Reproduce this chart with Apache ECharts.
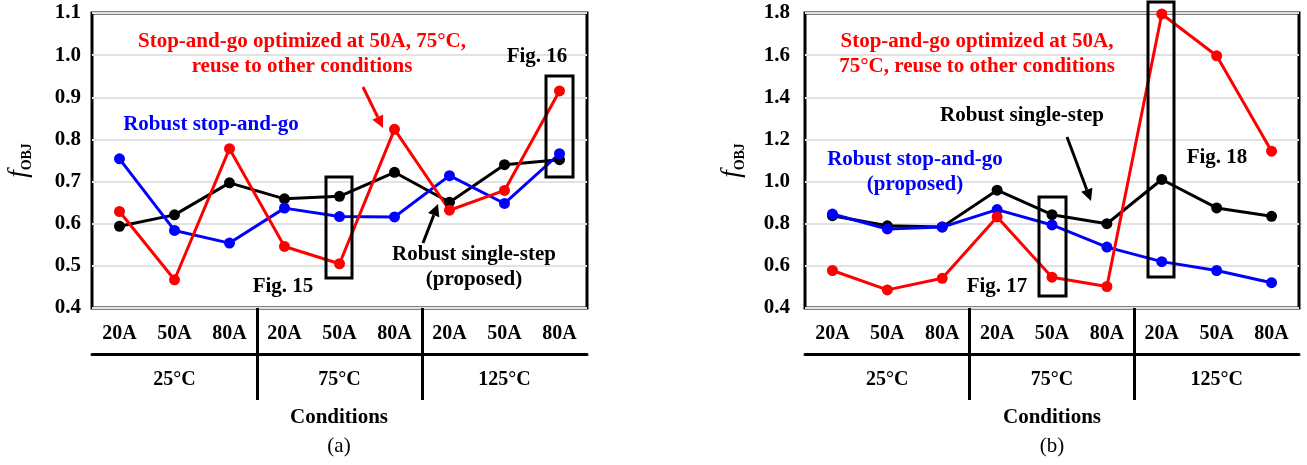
<!DOCTYPE html>
<html>
<head>
    <meta charset="UTF-8">
    <title>fOBJ conditions</title>
    <script src="https://cdn.jsdelivr.net/npm/echarts@6/dist/echarts.min.js"></script>
    <style>
        body { margin: 0; background: #fff; }
    </style>
</head>
<body>
<div id="chart" style="width: 1307px;height:465px;"></div>
<script>
    // 数据
    const currents = ['20A', '50A', '80A', '20A', '50A', '80A', '20A', '50A', '80A'];
    const temps = ['25°C', '75°C', '125°C'];

    // (a)
    const aSingleStep = [0.594, 0.621, 0.697, 0.659, 0.665, 0.722, 0.651, 0.740, 0.752];
    const aRobustStopGo = [0.754, 0.584, 0.554, 0.637, 0.617, 0.616, 0.714, 0.648, 0.766];
    const aStopGo = [0.629, 0.467, 0.778, 0.546, 0.505, 0.824, 0.632, 0.679, 0.915];
    const aTicks = { min: 0.4, max: 1.1, interval: 0.1 };

    // (b)
    const bSingleStep = [0.838, 0.790, 0.785, 0.959, 0.843, 0.800, 1.010, 0.875, 0.835];
    const bRobustStopGo = [0.846, 0.775, 0.784, 0.867, 0.794, 0.689, 0.620, 0.578, 0.520];
    const bStopGo = [0.578, 0.486, 0.541, 0.832, 0.546, 0.502, 1.795, 1.597, 1.144];
    const bTicks = { min: 0.4, max: 1.8, interval: 0.2 };

    const FONT = '"Liberation Serif", "Times New Roman", serif';

    var chart = echarts.init(document.getElementById('chart'));

    function yAxisCfg(idx, ticks, margin) {
        return {
            gridIndex: idx, type: 'value',
            min: ticks.min, max: ticks.max, interval: ticks.interval,
            axisLine: { show: false }, axisTick: { show: false },
            axisLabel: {
                margin: margin, color: '#000', fontFamily: FONT, fontWeight: 'bold', fontSize: 21,
                formatter: v => v.toFixed(1)
            },
            splitLine: { lineStyle: { color: '#e2e2e2', width: 2 } },
            name: '{f|f}{s|OBJ}', nameLocation: 'middle', nameGap: 58, nameRotate: 90,
            nameTextStyle: {
                rich: {
                    f: { fontFamily: FONT, fontStyle: 'italic', fontSize: 27, lineHeight: 30, color: '#000' },
                    s: { fontFamily: FONT, fontWeight: 'bold', fontSize: 14, lineHeight: 14, verticalAlign: 'bottom', color: '#000' }
                }
            }
        };
    }
    function xAxisCfg(idx) {
        return {
            gridIndex: idx, type: 'category', data: currents,
            axisLine: { show: false }, axisTick: { show: false },
            axisLabel: { margin: 16, color: '#000', fontFamily: FONT, fontWeight: 'bold', fontSize: 20, interval: 0 }
        };
    }
    // 温度分组（表格样式）
    function groupAxisCfg(idx) {
        return {
            gridIndex: idx, type: 'category', data: temps, position: 'bottom', offset: -46,
            axisLine: { show: true, lineStyle: { color: '#000', width: 3 } },
            axisTick: { show: false },
            axisLabel: { margin: 16, color: '#000', fontFamily: FONT, fontWeight: 'bold', fontSize: 20 },
            splitLine: { show: true, showMinLine: false, showMaxLine: false, lineStyle: { color: '#000', width: 3 } }
        };
    }
    function line(name, data, color, ax) {
        return {
            name: name, type: 'line', data: data, xAxisIndex: ax, yAxisIndex: ax,
            symbol: 'circle', symbolSize: 11,
            lineStyle: { color: color, width: 3 }, itemStyle: { color: color }
        };
    }

    // 注释
    function txt(x, y, s, color, weight) {
        return {
            type: 'text', x: x, y: y, z: 100,
            style: {
                text: s, fill: color, font: (weight || 'bold') + ' 21px ' + FONT,
                align: 'center', verticalAlign: 'middle', lineHeight: 25
            }
        };
    }
    function box(x1, y1, x2, y2) {
        return {
            type: 'rect', z: 100, shape: { x: x1, y: y1, width: x2 - x1, height: y2 - y1 },
            style: { fill: 'none', stroke: '#000', lineWidth: 3 }
        };
    }
    function arrow(x1, y1, x2, y2, color) {
        const a = Math.atan2(y2 - y1, x2 - x1), L = 12, W = 6;
        const bx = x2 - L * Math.cos(a), by = y2 - L * Math.sin(a);
        return [
            { type: 'line', z: 100, shape: { x1: x1, y1: y1, x2: bx, y2: by }, style: { stroke: color, lineWidth: 3 } },
            { type: 'polygon', z: 100, shape: { points: [[x2, y2],
                        [bx + W * Math.sin(a), by - W * Math.cos(a)],
                        [bx - W * Math.sin(a), by + W * Math.cos(a)]] }, style: { fill: color } }
        ];
    }

    const graphics = [
        // (a)
        txt(302, 54, 'Stop-and-go optimized at 50A, 75°C,\nreuse to other conditions', '#ff0000'),
        ...arrow(363, 87, 383, 128, '#ff0000'),
        txt(211, 125, 'Robust stop-and-go', '#0000ff'),
        txt(537, 57, 'Fig. 16', '#000'),
        box(546, 76, 573, 177),
        box(326, 177, 352, 278),
        txt(283, 287, 'Fig. 15', '#000'),
        txt(474, 267, 'Robust single-step\n(proposed)', '#000'),
        ...arrow(423, 243, 438, 204, '#000'),
        txt(339, 418, 'Conditions', '#000'),
        txt(339, 446, '(a)', '#000', 'normal'),
        // (b)
        txt(977, 54, 'Stop-and-go optimized at 50A,\n75°C, reuse to other conditions', '#ff0000'),
        txt(1022, 116, 'Robust single-step', '#000'),
        ...arrow(1067, 137, 1091, 201, '#000'),
        txt(915, 172, 'Robust stop-and-go\n(proposed)', '#0000ff'),
        txt(1217, 158, 'Fig. 18', '#000'),
        box(1148, 2, 1174, 277),
        box(1039, 197, 1066, 296),
        txt(997, 287, 'Fig. 17', '#000'),
        txt(1052, 418, 'Conditions', '#000'),
        txt(1052, 446, '(b)', '#000', 'normal')
    ];

    chart.setOption({
        animation: false,
        grid: [
            { left: 92, right: 720, top: 13, bottom: 157, show: true, borderColor: '#000', borderWidth: 3 },
            { left: 805, right: 8, top: 13, bottom: 157, show: true, borderColor: '#000', borderWidth: 3 },
            { left: 92, right: 720, top: 308, bottom: 65 },
            { left: 805, right: 8, top: 308, bottom: 65 }
        ],
        xAxis: [xAxisCfg(0), xAxisCfg(1), groupAxisCfg(2), groupAxisCfg(3)],
        yAxis: [
            yAxisCfg(0, aTicks, 11),
            yAxisCfg(1, bTicks, 15),
            { gridIndex: 2, show: false },
            { gridIndex: 3, show: false }
        ],
        series: [
            line('Robust single-step', aSingleStep, '#000000', 0),
            line('Robust stop-and-go', aRobustStopGo, '#0000ff', 0),
            line('Stop-and-go', aStopGo, '#ff0000', 0),
            line('Robust single-step', bSingleStep, '#000000', 1),
            line('Robust stop-and-go', bRobustStopGo, '#0000ff', 1),
            line('Stop-and-go', bStopGo, '#ff0000', 1)
        ],
        graphic: graphics
    });
</script>
</body>
</html>
